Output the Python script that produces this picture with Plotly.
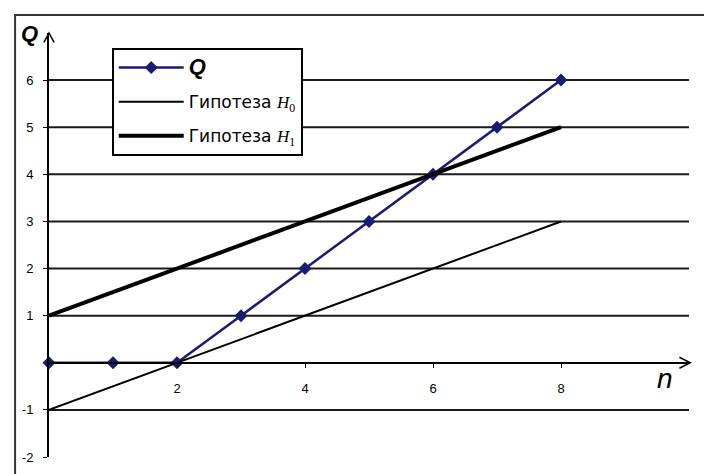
import plotly.graph_objects as go

# ---- data ----
n_vals = [0, 1, 2, 3, 4, 5, 6, 7, 8]
q_vals = [0, 0, 0, 1, 2, 3, 4, 5, 6]
n_hyp = [0, 8]
h0_vals = [-1, 3]
h1_vals = [1, 5]
y_ticks = [-2, -1, 1, 2, 3, 4, 5, 6]
y_tick_text = ["-2", "-1", "1", "2", "3", "4", "5", "6"]
y_grid = [-1, 1, 2, 3, 4, 5, 6]
x_ticks = [2, 4, 6, 8]

FONT = "Liberation Sans"
LEG_FONT = "DejaVu Sans"
NAVY = "#1b1b72"

fig = go.Figure()
fig.add_trace(go.Scatter(
    x=n_vals, y=q_vals, mode="lines+markers",
    name="<span style='font-family:Liberation Sans;font-size:22px'><b><i>Q</i></b></span>",
    line=dict(color=NAVY, width=2.5),
    marker=dict(symbol="diamond", size=10, color=NAVY),
    cliponaxis=False, legendgroup="a"))
fig.add_trace(go.Scatter(
    x=n_hyp, y=h0_vals, mode="lines",
    name="Гипотеза <span style='font-family:Liberation Serif'><i>H</i><sub>0</sub></span>",
    line=dict(color="black", width=2), cliponaxis=False, legendgroup="b"))
fig.add_trace(go.Scatter(
    x=n_hyp, y=h1_vals, mode="lines",
    name="Гипотеза <span style='font-family:Liberation Serif'><i>H</i><sub>1</sub></span>",
    line=dict(color="black", width=4), cliponaxis=False, legendgroup="c"))

shapes = []
for g in y_grid:
    shapes.append(dict(type="line", xref="x", yref="y", x0=0, x1=10.05, y0=g, y1=g,
                       line=dict(color="#1a1a1a", width=2), layer="below"))
# outer frame
shapes.append(dict(type="rect", xref="paper", yref="paper", x0=-0.053, x1=1.2,
                   y0=-0.2, y1=1.0425, line=dict(color="#333", width=2)))
# axis arrows
shapes.append(dict(type="path", xref="paper", yref="paper",
                   path="M -0.008,0.978 L 0,1 L 0.008,0.978",
                   line=dict(color="black", width=1.5)))
xa = 2 / 9
shapes.append(dict(type="path", xref="paper", yref="paper",
                   path=f"M 0.985,{xa+0.013} L 1.002,{xa} L 0.985,{xa-0.013}",
                   line=dict(color="black", width=1.5)))

fig.update_layout(
    width=704, height=474,
    margin=dict(l=49, r=15, t=33, b=17, autoexpand=False),
    paper_bgcolor="white", plot_bgcolor="white",
    font=dict(family=FONT, color="black", size=13),
    shapes=shapes,
    showlegend=True,
    legend=dict(x=0.098, y=0.9646, xanchor="left", yanchor="top",
                bgcolor="white", bordercolor="black", borderwidth=2,
                font=dict(family=LEG_FONT, size=17, color="black"),
                itemwidth=65,
                traceorder="grouped", tracegroupgap=9),
    xaxis=dict(range=[0, 10], anchor="free", position=xa,
               showline=True, linecolor="black", linewidth=2,
               showgrid=False, zeroline=False, automargin=False,
               tickvals=x_ticks, ticks="outside", ticklen=4, tickcolor="black",
               ticklabelstandoff=10, tickfont=dict(size=13)),
    yaxis=dict(range=[-2, 7], showline=True, linecolor="black", linewidth=2,
               showgrid=False, zeroline=False, automargin=False,
               tickvals=y_ticks, ticktext=y_tick_text,
               ticks="outside", ticklen=4, tickcolor="black",
               ticklabelstandoff=7, tickfont=dict(size=13)),
    annotations=[
        dict(text="<b><i>Q</i></b>", xref="paper", yref="paper", x=-0.03, y=1.0,
             xanchor="center", yanchor="middle", showarrow=False,
             font=dict(family=FONT, size=22)),
        dict(text="<i>n</i>", xref="paper", yref="paper", x=0.9625, y=0.186,
             xanchor="center", yanchor="middle", showarrow=False,
             font=dict(family=FONT, size=28)),
    ],
)
fig.write_html("out.html", config={"displayModeBar": False},
               post_script="document.body.style.margin='0';")
